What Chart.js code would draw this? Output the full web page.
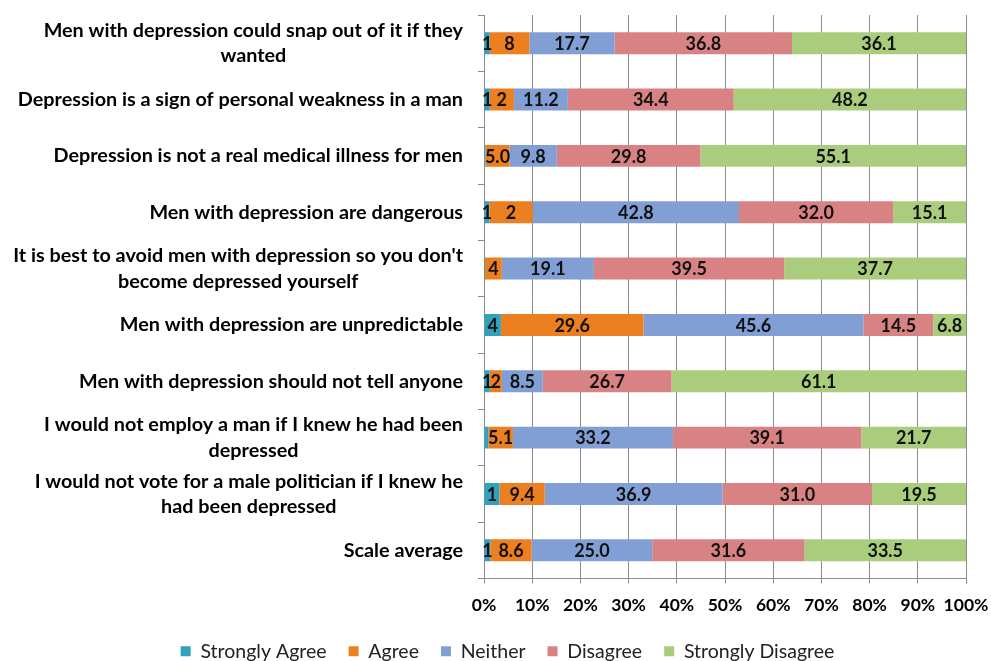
<!DOCTYPE html>
<html>
<head>
<meta charset="utf-8">
<script src="https://cdn.jsdelivr.net/npm/chart.js@4/dist/chart.umd.min.js"></script>
<style>
  html, body { margin: 0; padding: 0; background: #ffffff; }
  #wrap { width: 991px; height: 661px; position: relative; }
</style>
</head>
<body>
<div id="wrap"><canvas id="c" width="991" height="661"></canvas></div>
<script>
// ---- Data ----
const categories = [
  ["Men with depression could snap out of it if they", "wanted"],
  ["Depression is a sign of personal weakness in a man"],
  ["Depression is not a real medical illness for men"],
  ["Men with depression are dangerous"],
  ["It is best to avoid men with depression so you don't", "become depressed yourself"],
  ["Men with depression are unpredictable"],
  ["Men with depression should not tell anyone"],
  ["I would not employ a man if I knew he had been", "depressed"],
  ["I would not vote for a male politician if I knew he", "had been depressed"],
  ["Scale average"]
];
const seriesNames = ["Strongly Agree", "Agree", "Neither", "Disagree", "Strongly Disagree"];
const stronglyAgree    = [1.2, 1.2, 0.3, 1.1, 0.2, 3.5, 1.2, 0.9, 3.2, 1.3];
const agree            = [8.2, 5.0, 5.0, 9.0, 3.5, 29.6, 2.5, 5.1, 9.4, 8.6];
const neither          = [17.7, 11.2, 9.8, 42.8, 19.1, 45.6, 8.5, 33.2, 36.9, 25.0];
const disagree         = [36.8, 34.4, 29.8, 32.0, 39.5, 14.5, 26.7, 39.1, 31.0, 31.6];
const stronglyDisagree = [36.1, 48.2, 55.1, 15.1, 37.7, 6.8, 61.1, 21.7, 19.5, 33.5];
// label texts as printed on the bars
const stronglyAgreeText = ["1", "1", "", "1", "", "4", "1", "", "1", "1"];
const agreeText         = ["8", "2", "5.0", "2", "4", "29.6", "2", "5.1", "9.4", "8.6"];
const xTickValues = [0, 10, 20, 30, 40, 50, 60, 70, 80, 90, 100];

// ---- Styles ----
const colors = ["#31A1BE", "#EC7F20", "#819FD4", "#D98283", "#AACD7D"];
const FONT = "Lato, 'Open Sans', 'Liberation Sans', sans-serif";

const seriesValues = [stronglyAgree, agree, neither, disagree, stronglyDisagree];
const seriesText = [
  stronglyAgreeText,
  agreeText,
  neither.map(v => v.toFixed(1)),
  disagree.map(v => v.toFixed(1)),
  stronglyDisagree.map(v => v.toFixed(1))
];

const barLabelPlugin = {
  id: 'barLabels',
  afterDatasetsDraw(chart) {
    const ctx = chart.ctx;
    ctx.save();
    ctx.font = "bold 18px " + FONT;
    ctx.fillStyle = "#111111";
    ctx.textAlign = "center";
    ctx.textBaseline = "middle";
    chart.data.datasets.forEach((ds, di) => {
      const meta = chart.getDatasetMeta(di);
      meta.data.forEach((bar, i) => {
        const t = seriesText[di][i];
        if (!t) return;
        const cx = (bar.x + bar.base) / 2;
        ctx.fillText(t, cx, bar.y + 1);
      });
    });
    ctx.restore();
  }
};

const catLabelPlugin = {
  id: 'catLabels',
  afterDraw(chart) {
    const ctx = chart.ctx;
    const ys = chart.scales.y;
    const rightX = 463;
    const lh = 25.5;
    ctx.save();
    ctx.font = "bold 19.8px " + FONT;
    ctx.fillStyle = "#000000";
    ctx.textAlign = "center";
    ctx.textBaseline = "middle";
    categories.forEach((lines, i) => {
      const y = ys.getPixelForValue(i);
      const w = Math.max(...lines.map(l => ctx.measureText(l).width));
      const cx = rightX - w / 2;
      lines.forEach((l, j) => {
        ctx.fillText(l, cx, y + (j - (lines.length - 1) / 2) * lh);
      });
    });
    ctx.restore();
  }
};

new Chart(document.getElementById('c'), {
  type: 'bar',
  data: {
    labels: categories.map(c => c.join(' ')),
    datasets: seriesNames.map((n, k) => ({
      label: n,
      data: seriesValues[k],
      backgroundColor: colors[k],
      borderWidth: 0,
      categoryPercentage: 1.0,
      barPercentage: 0.39
    }))
  },
  options: {
    indexAxis: 'y',
    responsive: false,
    animation: false,
    devicePixelRatio: 1,
    layout: { padding: { left: 24, right: 0, top: 15, bottom: -10 } },
    plugins: {
      legend: {
        position: 'bottom',
        labels: {
          font: { family: FONT, size: 19.5 },
          color: "#222222",
          boxWidth: 10,
          boxHeight: 10,
          padding: 22
        }
      },
      tooltip: { enabled: false }
    },
    scales: {
      x: {
        stacked: true,
        min: 0,
        max: 100,
        afterBuildTicks(scale) { scale.ticks = xTickValues.map(v => ({ value: v })); },
        afterFit(scale) { scale.paddingRight = 25; scale.height = scale.height - 7; },
        ticks: {
          font: { family: FONT, size: 17.5, weight: 'bold' },
          color: "#000000",
          padding: 11,
          maxRotation: 0,
          callback: v => v + '%'
        },
        grid: { color: "#8C8C8C", lineWidth: 1, tickLength: 5 },
        border: { color: "#8C8C8C" }
      },
      y: {
        stacked: true,
        afterFit(scale) { scale.width = 460; },
        ticks: { display: false },
        grid: { drawOnChartArea: false, drawTicks: true, tickLength: 6, offset: true, color: "#8C8C8C" },
        border: { color: "#8C8C8C" }
      }
    }
  },
  plugins: [barLabelPlugin, catLabelPlugin]
});
</script>
</body>
</html>
